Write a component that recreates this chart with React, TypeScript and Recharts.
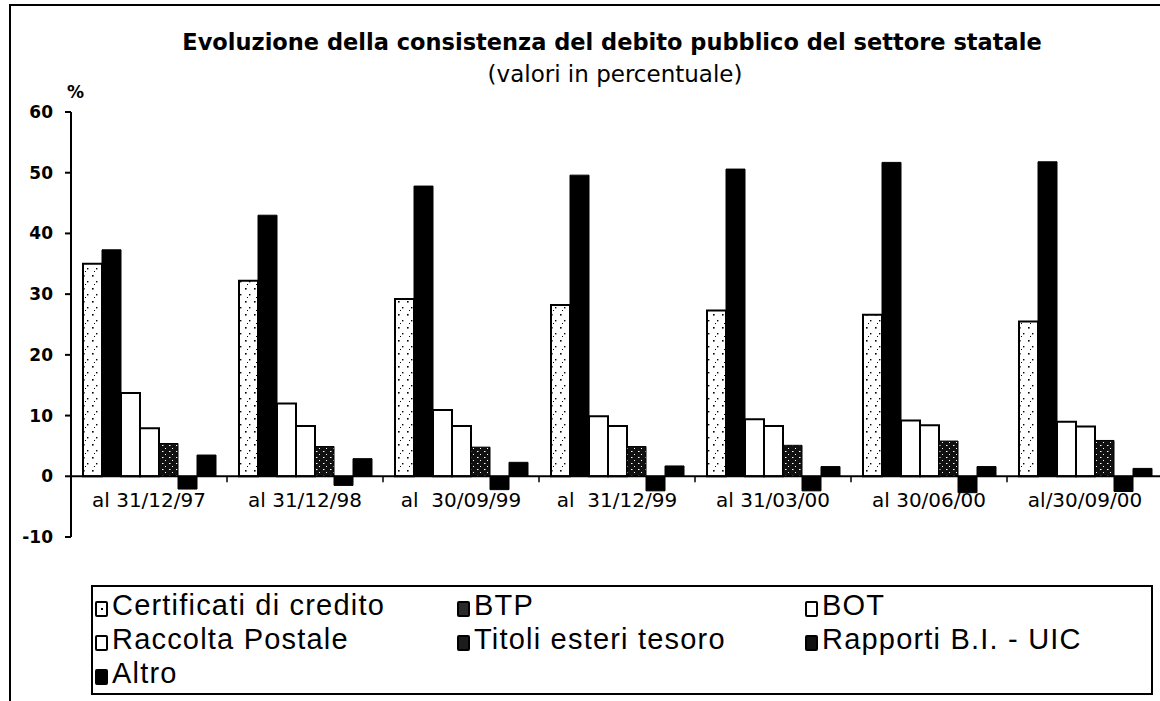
import React from "react";
import { BarChart, Bar, XAxis, YAxis, ReferenceLine } from "recharts";

const categories = [
  "al 31/12/97",
  "al 31/12/98",
  "al  30/09/99",
  "al  31/12/99",
  "al 31/03/00",
  "al 30/06/00",
  "al/30/09/00",
];
const cct = [35.0, 32.2, 29.2, 28.2, 27.3, 26.6, 25.5];
const btp = [37.3, 43.0, 47.8, 49.6, 50.6, 51.7, 51.8];
const bot = [13.7, 12.0, 10.9, 9.9, 9.4, 9.2, 9.0];
const postale = [7.9, 8.3, 8.3, 8.3, 8.3, 8.4, 8.2];
const esteri = [5.4, 4.9, 4.8, 4.9, 5.1, 5.8, 5.9];
const rapporti = [-2.1, -1.5, -2.2, -2.4, -2.4, -2.7, -2.5];
const altro = [3.5, 2.9, 2.3, 1.7, 1.6, 1.6, 1.3];
const yTicks = [-10, 0, 10, 20, 30, 40, 50, 60];

const data = categories.map((c, i) => ({
  cat: c,
  cct: cct[i],
  btp: btp[i],
  bot: bot[i],
  postale: postale[i],
  esteri: esteri[i],
  rapporti: rapporti[i],
  altro: altro[i],
}));

// chart geometry
const W = 1170;
const H = 701;
const M = { top: 112, right: 7, bottom: 134, left: 0 };
const X_AXIS_H = 30;
const Y_AXIS_W = 71;
const Y_MIN = -10;
const Y_MAX = 60;
const plotBottom = H - M.bottom - X_AXIS_H;
const plotH = plotBottom - M.top;
const zeroY = plotBottom - (plotH * (0 - Y_MIN)) / (Y_MAX - Y_MIN);
const bandW = (W - M.right - M.left - Y_AXIS_W) / categories.length;

const SANS = "'DejaVu Sans', sans-serif";
const HELV = "'Liberation Sans', Arial, sans-serif";

const CategoryTick = ({ x, payload, index }: any) => (
  <g>
    <text
      x={x}
      y={zeroY + 31}
      textAnchor="middle"
      fill="#000"
      fontSize={20}
      fontFamily={SANS}
      style={{ whiteSpace: "pre" }}
    >
      {payload.value}
    </text>
    {index < categories.length - 1 && (
      <line x1={x + bandW / 2} x2={x + bandW / 2} y1={zeroY} y2={zeroY + 6} stroke="#000" strokeWidth={1.5} />
    )}
  </g>
);

const legendItems = [
  { name: "Certificati di credito", fill: "#fff", dot: true },
  { name: "BTP", fill: "#2a2a2a" },
  { name: "BOT", fill: "#fff" },
  { name: "Raccolta Postale", fill: "#fff" },
  { name: "Titoli esteri tesoro", fill: "#1c1c1c" },
  { name: "Rapporti B.I. - UIC", fill: "#111" },
  { name: "Altro", fill: "#000" },
];

export default function App() {
  return (
    <div style={{ position: "absolute", left: 0, top: 0, width: 1160, height: 701, overflow: "hidden", background: "#fff" }}>
      {/* outer frame */}
      <div style={{ position: "absolute", left: 9, top: 4, width: 1200, height: 800, borderLeft: "2px solid #000", borderTop: "2px solid #000" }} />

      <div style={{ position: "absolute", left: 0, top: 0 }}>
        <BarChart width={W} height={H} data={data} margin={M} barSize={19} barGap={0}>
          <defs>
            <pattern id="cctDots" patternUnits="userSpaceOnUse" width="9" height="13">
              <rect width="9" height="13" fill="#fff" />
              <rect x="2" y="2" width="1.6" height="1.6" fill="#000" />
              <rect x="6" y="8" width="1.4" height="1.4" fill="#000" />
              <rect x="4" y="11" width="1" height="1" fill="#000" />
            </pattern>
            <pattern id="darkSpeck" patternUnits="userSpaceOnUse" width="7" height="6">
              <rect width="7" height="6" fill="#111" />
              <rect x="1" y="1" width="1.5" height="1" fill="#fff" />
              <rect x="4" y="4" width="1" height="1" fill="#fff" />
            </pattern>
          </defs>
          <XAxis
            dataKey="cat"
            height={X_AXIS_H}
            axisLine={false}
            tickLine={false}
            interval={0}
            tick={<CategoryTick />}
          />
          <YAxis
            width={Y_AXIS_W}
            domain={[Y_MIN, Y_MAX]}
            ticks={yTicks}
            interval={0}
            axisLine={{ stroke: "#000", strokeWidth: 2 }}
            tickLine={{ stroke: "#000", strokeWidth: 2 }}
            tickSize={6}
            tickMargin={12}
            tick={{ fill: "#000", fontSize: 17, fontWeight: "bold", fontFamily: SANS }}
          />
          <ReferenceLine y={0} stroke="#000" strokeWidth={2} />
          <Bar dataKey="cct" fill="url(#cctDots)" stroke="#000" strokeWidth={2} isAnimationActive={false} />
          <Bar dataKey="btp" fill="#000" stroke="#000" strokeWidth={1} isAnimationActive={false} />
          <Bar dataKey="bot" fill="#fff" stroke="#000" strokeWidth={2} isAnimationActive={false} />
          <Bar dataKey="postale" fill="#fff" stroke="#000" strokeWidth={2} isAnimationActive={false} />
          <Bar dataKey="esteri" fill="url(#darkSpeck)" stroke="#000" strokeWidth={1} isAnimationActive={false} />
          <Bar dataKey="rapporti" fill="#000" stroke="#000" strokeWidth={1} isAnimationActive={false} />
          <Bar dataKey="altro" fill="#000" stroke="#000" strokeWidth={1} isAnimationActive={false} />
        </BarChart>
      </div>

      {/* titles */}
      <div style={{ position: "absolute", left: 0, width: 1224, top: 29, textAlign: "center", fontFamily: SANS, fontWeight: "bold", fontSize: 22.5, lineHeight: "26px" }}>
        Evoluzione della consistenza del debito pubblico del settore statale
      </div>
      <div style={{ position: "absolute", left: 0, width: 1230, top: 61, textAlign: "center", fontFamily: SANS, fontSize: 23, lineHeight: "27px" }}>
        (valori in percentuale)
      </div>
      <div style={{ position: "absolute", left: 67, top: 82, fontFamily: SANS, fontWeight: "bold", fontSize: 17 }}>%</div>

      {/* legend */}
      <div
        style={{
          position: "absolute",
          left: 91,
          top: 585,
          width: 1062,
          height: 110,
          boxSizing: "border-box",
          border: "2px solid #000",
          padding: "1px 0 0 2px",
          display: "grid",
          gridTemplateColumns: "362px 348px 1fr",
          gridAutoRows: "34px",
          fontFamily: HELV,
          fontSize: 29,
          letterSpacing: 1.2,
          color: "#000",
        }}
      >
        {legendItems.map((it) => (
          <div key={it.name} style={{ display: "flex", alignItems: "center", whiteSpace: "nowrap" }}>
            <span
              style={{
                display: "inline-block",
                width: 13,
                height: 16,
                marginTop: 8,
                marginRight: 4,
                border: "2px solid #000",
                borderRadius: 2,
                background: it.fill,
                boxSizing: "border-box",
                position: "relative",
                flex: "none",
              }}
            >
              {it.dot && <span style={{ position: "absolute", left: 4, top: 5, width: 2, height: 2, background: "#000" }} />}
            </span>
            <span style={{ lineHeight: "34px" }}>{it.name}</span>
          </div>
        ))}
      </div>
    </div>
  );
}
